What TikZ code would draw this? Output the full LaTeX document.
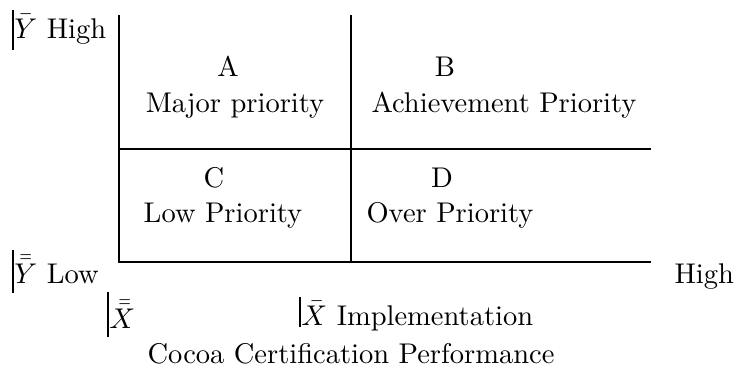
\documentclass[tikz,border=0pt]{standalone}
\usepackage{amsmath}
\newcommand{\lbar}[2]{\vrule width 0.7pt height #1pt depth #2pt\kern0.3pt}

\begin{document}
\begin{tikzpicture}[x=1pt,y=-1pt,
	lbl/.style={inner sep=0pt, scale=2.85, transform shape},
	axis/.style={line width=1.6pt}]
	\useasboundingbox (0,0) rectangle (741,369);
	% quadrant lines
	\draw[axis] (119,15)--(119,262)--(651,262);
	\draw[axis] (351,15)--(351,262);
	\draw[axis] (119,149)--(651,149);
	% quadrants
	\node[lbl, anchor=base] (qa) at (228,77) {A};
	\node[lbl, anchor=base] (qamaj) at (235,112) {Major priority};
	\node[lbl, anchor=base] (qb) at (445,77) {B};
	\node[lbl, anchor=base] (qbach) at (504,112) {Achievement Priority};
	\node[lbl, anchor=base] (qc) at (214,187) {C};
	\node[lbl, anchor=base] (qclow) at (223,222) {Low Priority};
	\node[lbl, anchor=base] (qd) at (442,187) {D};
	\node[lbl, anchor=base west] (qdover) at (366,222) {Over Priority};
	% axis labels
	\node[lbl, anchor=base west] (yhigh) at (11,38) {\lbar{9.8}{4.2}$\bar{Y}$ High};
	\node[lbl, anchor=base west] (ylow) at (11,283) {\lbar{11.6}{3.5}$\bar{\bar{Y}}$ Low};
	\node[lbl, anchor=base west] (xhigh) at (674,283) {High};
	\node[lbl, anchor=base west] (xlow) at (106,328) {\lbar{12.6}{3.2}$\bar{\bar{X}}$};
	\node[lbl, anchor=base west] (ximp) at (298,325) {\lbar{9.8}{0.7}$\bar{X}$ Implementation};
	\node[lbl, anchor=base] (xtitle) at (351,363) {Cocoa Certification Performance};
\end{tikzpicture}
\end{document}
